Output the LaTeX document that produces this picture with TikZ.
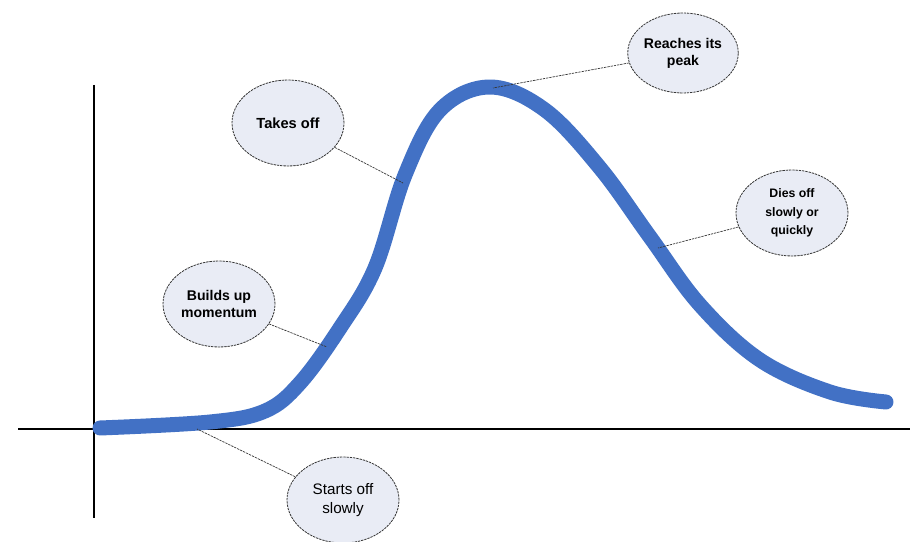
\documentclass[tikz,border=0pt]{standalone}
\usepackage{fontspec}
\setmainfont{Liberation Sans}
\usepackage{xcolor}
\usepackage{tikz}
\usetikzlibrary{shapes.geometric}

\begin{document}
\begin{tikzpicture}[x = {(0.03cm,0cm)},
                    y = {(0cm,-0.03cm)}]

  % COLORS
  \definecolor{curvecolor}{RGB}{ 66,113,197 }
  \definecolor{bubblecolor}{RGB}{ 233,236,245 }
  \definecolor{leadercolor}{RGB}{ 55,55,55 }

  % STYLES
  \tikzstyle{bubble} = [ellipse, fill=bubblecolor, draw=leadercolor, dash pattern=on 2pt off 0.8pt, line width=0.7pt, minimum width=3.36cm, minimum height=2.58cm, inner sep=0pt, align=center, font=\bfseries\fontsize{12}{14.5}\selectfont]
  \tikzstyle{leader} = [draw=leadercolor, dash pattern=on 2pt off 0.8pt, line width=0.6pt]
  \tikzstyle{axis} = [draw=black, line width=1.3pt]

  \useasboundingbox (0,0) rectangle (910,542);

  % AXES
  \coordinate (yTop) at (94,85);
  \coordinate (yBot) at (94,518);
  \coordinate (xLeft) at (18,429);
  \coordinate (xRight) at (910,429);
  \draw[axis] (yTop) -- (yBot);
  \draw[axis] (xLeft) -- (xRight);

  % CURVE
  \draw[curvecolor, line width=12.8pt, line cap=round, line join=round]
    plot[smooth, tension=0.6] coordinates {
      (100,428) (210,422) (265,411) (300,383) (340,328)
      (375,268) (405,175) (440,110) (490,87)
      (545,110) (600,168) (650,237) (700,305)
      (760,360) (830,392) (886,402)};

  % POINTS ON THE CURVE
  \coordinate (startsPt) at (197,429);
  \coordinate (buildsPt) at (327,347);
  \coordinate (takesPt) at (403,183);
  \coordinate (peakPt) at (493,88);
  \coordinate (diesPt) at (658,248);

  % BUBBLES
  \node[bubble, font=\bfseries\fontsize{12.5}{15}\selectfont] (takes) at (288,123) {Takes off};
  \node[bubble, minimum width=3.1cm, minimum height=2.4cm] (peak) at (683,53) {Reaches its\\peak};
  \node[bubble, font=\bfseries\fontsize{10.5}{16}\selectfont] (dies) at (792,213) {Dies off\\slowly or\\quickly};
  \node[bubble] (builds) at (219,304) {Builds up\\momentum};
  \node[bubble, font=\mdseries\fontsize{13}{16}\selectfont] (starts) at (343,500) {Starts off\\slowly};

  % LEADERS
  \draw[leader] (takes) -- (takesPt);
  \draw[leader] (peak) -- (peakPt);
  \draw[leader] (dies) -- (diesPt);
  \draw[leader] (builds) -- (buildsPt);
  \draw[leader] (starts) -- (startsPt);

\end{tikzpicture}
\end{document}
